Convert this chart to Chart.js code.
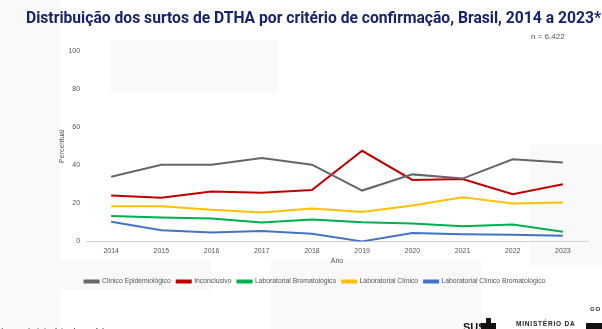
<!DOCTYPE html>
<html>
<head>
<meta charset="utf-8">
<script src="https://cdn.jsdelivr.net/npm/chart.js@4/dist/chart.umd.min.js"></script>
<style>
  html, body { margin:0; padding:0; background:#fff; }
  body { width:602px; height:329px; position:relative; overflow:hidden; font-family:"Liberation Sans", Arial, sans-serif; }
  .bg { position:absolute; background:#f9f9f9; }
  #title { position:absolute; left:26px; top:8px; white-space:nowrap; font-family:Roboto, sans-serif; font-weight:700; font-size:16px; color:#16256b; transform-origin:0 0; }
  #n { position:absolute; left:531px; top:32px; font-size:8px; color:#555; }
  #src { position:absolute; left:0px; top:327px; font-size:9px; color:#333; white-space:nowrap; }
  #sus { position:absolute; left:463px; top:321px; font-size:11px; font-weight:700; color:#111; }
  #min { position:absolute; left:516px; top:320px; font-size:6.5px; font-weight:700; letter-spacing:0.8px; color:#222; }
  #gov { position:absolute; left:590px; top:306px; font-size:6px; font-weight:700; letter-spacing:0.8px; color:#222; }
  .blk { position:absolute; background:#111; }
  #cv { position:absolute; left:0; top:0; }
</style>
</head>
<body>
<div class="bg" style="left:0;top:0;width:60px;height:329px;"></div>
<div class="bg" style="left:110px;top:40px;width:168px;height:52px;"></div>
<div class="bg" style="left:60px;top:260px;width:151px;height:30px;"></div>
<div class="bg" style="left:271px;top:260px;width:210px;height:69px;"></div>
<div class="bg" style="left:530px;top:145px;width:72px;height:120px;"></div>
<canvas id="cv" width="602" height="329"></canvas>
<div id="title">Distribuição dos surtos de DTHA por critério de confirmação, Brasil, 2014 a 2023*</div>
<div id="n">n = 6.422</div>
<div id="src">(SVSA/Ministério da Saúde</div>
<div id="sus">SUS</div>
<div class="blk" style="left:486px;top:318px;width:5px;height:11px;"></div>
<div class="blk" style="left:481px;top:323px;width:15px;height:6px;"></div>
<div id="min">MINISTÉRIO DA</div>
<div id="gov">GO</div>
<div class="blk" style="left:586px;top:323px;width:16px;height:6px;"></div>
<script>
const anos = ["2014","2015","2016","2017","2018","2019","2020","2021","2022","2023"];
const clinicoEpidemiologico = [34.0, 40.2, 40.3, 43.8, 40.3, 26.7, 35.2, 33.0, 43.1, 41.4];
const inconclusivo = [24.1, 22.9, 26.2, 25.5, 27.0, 47.6, 32.3, 32.8, 24.8, 30.0];
const laboratorialBromatologico = [13.3, 12.6, 12.0, 9.9, 11.5, 10.1, 9.4, 7.9, 8.9, 5.1];
const laboratorialClinico = [18.5, 18.5, 16.6, 15.2, 17.3, 15.4, 18.8, 23.2, 19.9, 20.4];
const laboratorialClinicoBromatologico = [10.3, 5.9, 4.7, 5.4, 4.0, 0.0, 4.4, 3.8, 3.5, 3.0];
const yTicks = [0, 20, 40, 60, 80, 100];

// fit title width to the reference (~575px)
(function () {
  const t = document.getElementById('title');
  const w = t.getBoundingClientRect().width;
  t.style.transform = 'scaleX(' + (575 / w) + ')';
})();

function ds(label, data, color) {
  return { label, data, borderColor: color, backgroundColor: color, borderWidth: 2, pointRadius: 0, tension: 0, fill: false };
}
const f7 = { family: 'Liberation Sans', size: 7 };

new Chart(document.getElementById('cv'), {
  type: 'line',
  data: {
    labels: anos,
    datasets: [
      ds('Clínico Epidemiológico', clinicoEpidemiologico, '#666666'),
      ds('Inconclusivo', inconclusivo, '#c00000'),
      ds('Laboratorial Bromatológico', laboratorialBromatologico, '#00b050'),
      ds('Laboratorial Clínico', laboratorialClinico, '#ffc000'),
      ds('Laboratorial Clínico Bromatológico', laboratorialClinicoBromatologico, '#4472c4')
    ]
  },
  options: {
    responsive: false,
    animation: false,
    layout: { padding: { left: 42, right: 14, top: 51, bottom: 34 } },
    plugins: {
      legend: {
        position: 'bottom',
        labels: { boxWidth: 14, boxHeight: 2, padding: 6, font: { family: 'Liberation Sans', size: 6.8 }, color: '#555' }
      },
      tooltip: { enabled: false }
    },
    scales: {
      x: {
        offset: true,
        grid: { display: false, drawTicks: false, tickLength: 0 },
        border: { display: true, color: '#d0d0d0', width: 1 },
        ticks: { font: f7, color: '#555', padding: 5 },
        title: { display: true, text: 'Ano', font: f7, color: '#555', padding: { top: -3.3, bottom: 7.3 } }
      },
      y: {
        min: 0, max: 100,
        afterBuildTicks: (axis) => { axis.ticks = yTicks.map(v => ({ value: v })); },
        grid: { display: false, drawTicks: false, tickLength: 0 },
        border: { display: false },
        ticks: { font: f7, color: '#555', padding: 6 },
        title: { display: true, text: 'Percentual', font: f7, color: '#555', padding: { top: 15.8, bottom: -3.8 } }
      }
    }
  }
});
</script>
</body>
</html>
